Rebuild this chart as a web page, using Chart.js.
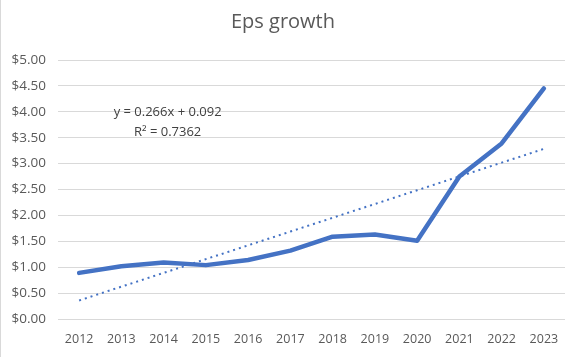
<!DOCTYPE html>
<html><head><meta charset="utf-8">
<script src="https://cdn.jsdelivr.net/npm/chart.js@4"></script>
<style>html,body{margin:0;padding:0;background:#fff}#wrap{width:582px;height:357px;position:relative;box-sizing:border-box;border-left:1px solid #d9d9d9}</style>
</head><body><div id="wrap"><canvas id="c"></canvas></div>
<script>
const years = ['2012','2013','2014','2015','2016','2017','2018','2019','2020','2021','2022','2023'];
const eps = [0.89, 1.02, 1.09, 1.04, 1.14, 1.32, 1.59, 1.63, 1.51, 2.75, 3.39, 4.45];
const trendSlope = 0.266;
const trendIntercept = 0.092;
const trendLabel = ['y = 0.266x + 0.092', 'R\u00B2 = 0.7362'];
const trend = years.map((_, i) => +(trendSlope * (i + 1) + trendIntercept).toFixed(3));

const labelPlugin = {
  id: 'trendLabel',
  afterDatasetsDraw(chart) {
    const {ctx, scales:{x, y}} = chart;
    const cx = x.getPixelForValue(2) + 4;
    ctx.save();
    ctx.font = '13px "Open Sans", sans-serif';
    ctx.fillStyle = '#404040';
    ctx.textAlign = 'center';
    ctx.textBaseline = 'middle';
    ctx.fillText(trendLabel[0], cx, y.getPixelForValue(4.0));
    ctx.fillText(trendLabel[1], cx, y.getPixelForValue(3.61));
    ctx.restore();
  }
};

new Chart(document.getElementById('c'), {
  type: 'line',
  data: {
    labels: years,
    datasets: [
      {data: eps, borderColor: '#4472C4', borderWidth: 4.5, pointRadius: 0, tension: 0, borderJoinStyle: 'round', borderCapStyle: 'round'},
      {data: trend, borderColor: '#4472C4', borderWidth: 2, borderDash: [2, 4], pointRadius: 0, tension: 0}
    ]
  },
  options: {
    responsive: true, maintainAspectRatio: false, animation: false,
    layout: {padding: {left: 0, right: 17, top: 0, bottom: 11}},
    plugins: {
      legend: {display: false}, tooltip: {enabled: false},
      title: {display: true, text: 'Eps growth', color: '#595959', font: {family: '"Open Sans", sans-serif', size: 20, weight: 'normal'}, padding: {top: 10, bottom: 26}}
    },
    scales: {
      x: {offset: true, grid: {display: false, drawTicks: false}, border: {display: false},
          afterFit: s => { s.height = 27; },
          ticks: {color: '#595959', font: {family: '"Open Sans", sans-serif', size: 12.5}, padding: 13, maxRotation: 0, autoSkip: false}},
      y: {min: 0, max: 5, grid: {color: '#d9d9d9', drawTicks: false}, border: {display: false},
          afterFit: s => { s.width = 57; },
          ticks: {stepSize: 0.5, color: '#595959', font: {family: '"Open Sans", sans-serif', size: 13.5}, padding: 12,
                  callback: v => '$' + v.toFixed(2)}}
    }
  },
  plugins: [labelPlugin]
});
</script></body></html>
